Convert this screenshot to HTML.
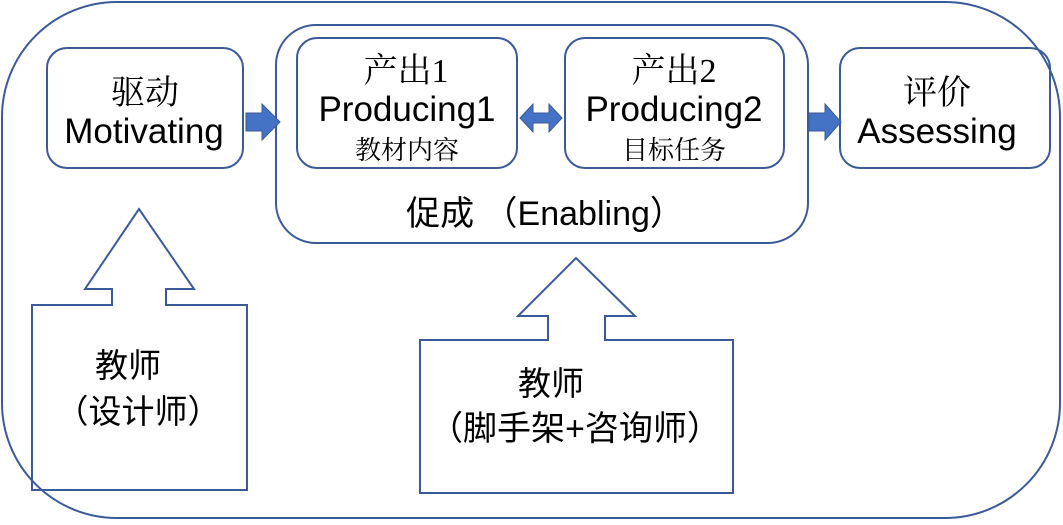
<!DOCTYPE html>
<html><head><meta charset="utf-8"><style>
body{margin:0;width:1063px;height:520px;background:#fff;overflow:hidden}
svg text{font-family:"Liberation Sans","Noto Sans CJK SC",sans-serif;fill:#000;text-anchor:middle}
.s{font-family:"Liberation Serif","Noto Serif CJK SC",serif}
</style></head><body>
<svg width="1063" height="520" viewBox="0 0 1063 520">
<g fill="none" stroke="#3a5a9a" stroke-width="2">
<rect x="2" y="2" width="1058" height="516" rx="115"/>
<rect x="47" y="48" width="196" height="120" rx="20"/>
<rect x="276" y="25" width="532" height="218" rx="40"/>
<rect x="297" y="38" width="220" height="130" rx="20"/>
<rect x="565" y="38" width="219" height="130" rx="20"/>
<rect x="840" y="48" width="210" height="120" rx="20"/>
<polygon points="32,305 112,305 112,289 85,289 139,209 194,289 166,289 166,305 247,305 247,490 32,490"/>
<polygon points="420,340 548,340 548,316 518,316 576,258 635,316 605,316 605,340 733,340 733,493 420,493"/>
</g>
<g fill="#4472c4" stroke="#3a5a9a" stroke-width="1">
<polygon points="246,113 262,113 262,104 280,122 262,140 262,131 246,131"/>
<polygon points="520,118 533,104 533,113 549,113 549,104 562,118 549,132 549,123 533,123 533,132"/>
<polygon points="809,113 825,113 825,104 841,122 825,140 825,131 809,131"/>
</g>
<text x="145" y="104" font-size="34" class="s">驱动</text>
<text x="144" y="143" font-size="35">Motivating</text>
<text x="406" y="82" font-size="34" class="s">产出1</text>
<text x="407" y="121" font-size="35">Producing1</text>
<text x="407" y="159" font-size="26" class="s">教材内容</text>
<text x="674" y="82" font-size="34" class="s">产出2</text>
<text x="674" y="121" font-size="35">Producing2</text>
<text x="674" y="159" font-size="26" class="s">目标任务</text>
<text x="937" y="104" font-size="34" class="s">评价</text>
<text x="937" y="143" font-size="35">Assessing</text>
<text x="545" y="225" font-size="34">促成 （Enabling）</text>
<text x="128" y="377" font-size="33">教师</text>
<text x="138" y="423" font-size="33">（设计师）</text>
<text x="551" y="395" font-size="33">教师</text>
<text x="575" y="440" font-size="34">（脚手架+咨询师）</text>
</svg>
</body></html>
